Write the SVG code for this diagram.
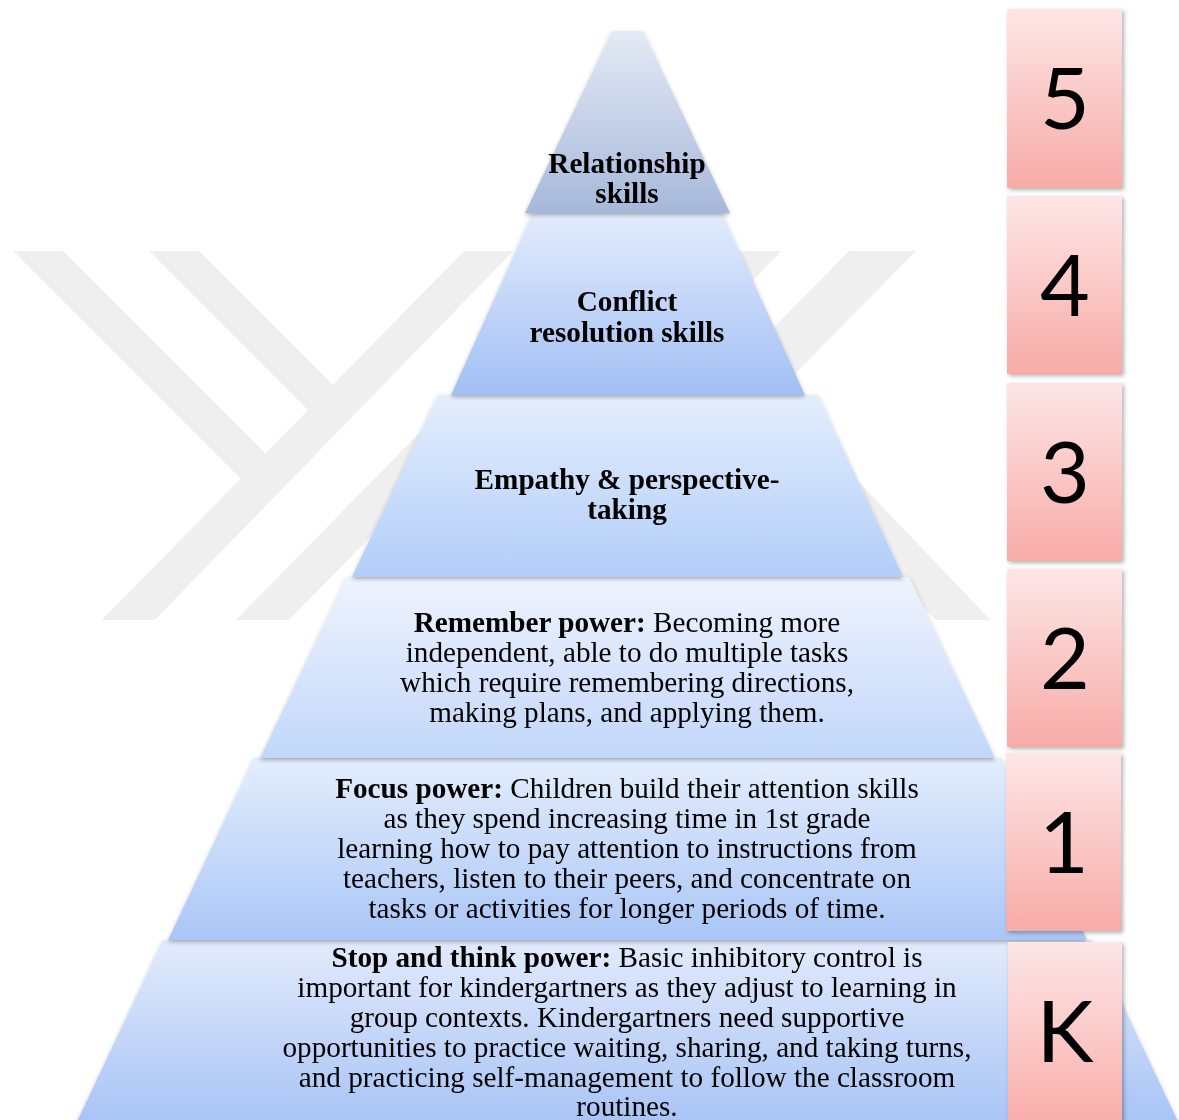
<svg xmlns="http://www.w3.org/2000/svg" width="1179" height="1120" viewBox="0 0 1179 1120">
<style>
.t{font-family:"Liberation Serif","Times New Roman",serif;font-size:29.2px;fill:#000;text-anchor:middle}
.b{font-weight:bold}
.num{font-family:Lato,"Open Sans",sans-serif;font-size:86px;fill:#000;text-anchor:middle}
.wm{fill:#efefef}
</style>
<defs>
<linearGradient id="g1" x1="0" y1="0" x2="0" y2="1"><stop offset="0" stop-color="#e4eaf5"/><stop offset="1" stop-color="#a6b8da"/></linearGradient>
<linearGradient id="g2" x1="0" y1="0" x2="0" y2="1"><stop offset="0" stop-color="#e3ecfc"/><stop offset="1" stop-color="#a2bff4"/></linearGradient>
<linearGradient id="g3" x1="0" y1="0" x2="0" y2="1"><stop offset="0" stop-color="#e4eefd"/><stop offset="1" stop-color="#b2cdf8"/></linearGradient>
<linearGradient id="g4" x1="0" y1="0" x2="0" y2="1"><stop offset="0" stop-color="#eff3fe"/><stop offset="1" stop-color="#c2d7fa"/></linearGradient>
<linearGradient id="g5" x1="0" y1="0" x2="0" y2="1"><stop offset="0" stop-color="#e4eefd"/><stop offset="1" stop-color="#aac6f6"/></linearGradient>
<linearGradient id="g6" x1="0" y1="0" x2="0" y2="1"><stop offset="0" stop-color="#e2ebfc"/><stop offset="1" stop-color="#a6c2f5"/></linearGradient>
<linearGradient id="gp" x1="0" y1="0" x2="0" y2="1"><stop offset="0" stop-color="#fde6e6"/><stop offset="1" stop-color="#f8aba7"/></linearGradient>
<filter id="sh" x="-10%" y="-10%" width="120%" height="125%"><feDropShadow dx="0" dy="2" stdDeviation="2" flood-color="#000" flood-opacity="0.3"/></filter>
<filter id="shb" x="-10%" y="-10%" width="130%" height="120%"><feDropShadow dx="2" dy="2" stdDeviation="2" flood-color="#000" flood-opacity="0.3"/></filter>
<clipPath id="wmclip"><rect x="0" y="251" width="1179" height="369"/></clipPath>
</defs>
<rect width="1179" height="1120" fill="#ffffff"/>
<g id="watermark" clip-path="url(#wmclip)">
<polygon class="wm" points="13,251 63,251 290,478 265,503 240,478"/>
<polygon class="wm" points="149,251 199,251 350,402 325,427 309,411"/>
<polygon class="wm" points="475,240 524,240 145,630 92,630"/>
<polygon class="wm" points="609,240 662,240 279,630 226,630"/>
<polygon class="wm" points="740,240 792,240 560,480 508,480"/>
<polygon class="wm" points="860,240 927,240 690,480 623,480"/>
<polygon class="wm" points="735,410 790,410 1000,630 945,630"/>
</g>
<g id="pyramid">
<g id="level-k" filter="url(#sh)">
<polygon points="163,940 1092,940 1182,1130 73,1130" fill="url(#g6)"/>
<text class="t" x="627" y="967"><tspan class="b">Stop and think power:</tspan> Basic inhibitory control is</text>
<text class="t" x="627" y="997">important for kindergartners as they adjust to learning in</text>
<text class="t" x="627" y="1027">group contexts. Kindergartners need supportive</text>
<text class="t" x="627" y="1057">opportunities to practice waiting, sharing, and taking turns,</text>
<text class="t" x="627" y="1087">and practicing self-management to follow the classroom</text>
<text class="t" x="627" y="1116">routines.</text>
</g>
<g id="level-1" filter="url(#sh)">
<polygon points="254,758 1001,758 1087,940 168,940" fill="url(#g5)"/>
<text class="t" x="627" y="798"><tspan class="b">Focus power:</tspan> Children build their attention skills</text>
<text class="t" x="627" y="828">as they spend increasing time in 1st grade</text>
<text class="t" x="627" y="858">learning how to pay attention to instructions from</text>
<text class="t" x="627" y="888">teachers, listen to their peers, and concentrate on</text>
<text class="t" x="627" y="918">tasks or activities for longer periods of time.</text>
</g>
<g id="level-2" filter="url(#sh)">
<polygon points="347,577 909,577 995,758 260,758" fill="url(#g4)"/>
<text class="t" x="627" y="632"><tspan class="b">Remember power:</tspan> Becoming more</text>
<text class="t" x="627" y="662">independent, able to do multiple tasks</text>
<text class="t" x="627" y="692">which require remembering directions,</text>
<text class="t" x="627" y="722">making plans, and applying them.</text>
</g>
<g id="level-3" filter="url(#sh)">
<polygon points="438,395 818,395 903,577 352,577" fill="url(#g3)"/>
<text class="t b" x="627" y="489">Empathy &amp; perspective-</text>
<text class="t b" x="627" y="519">taking</text>
</g>
<g id="level-4" filter="url(#sh)">
<polygon points="533,213 722,213 805,395 451,395" fill="url(#g2)"/>
<text class="t b" x="627" y="311">Conflict</text>
<text class="t b" x="627" y="342">resolution skills</text>
</g>
<g id="level-5" filter="url(#sh)">
<polygon points="612,31 643,31 730,213 525,213" fill="url(#g1)"/>
<text class="t b" x="627" y="173">Relationship</text>
<text class="t b" x="627" y="203">skills</text>
</g>
</g>
<g id="grades">
<g id="grade-5"><rect x="1007" y="9" width="115" height="179" fill="url(#gp)" filter="url(#shb)"/><text class="num" x="1065" y="129">5</text></g>
<g id="grade-4"><rect x="1007" y="196" width="115" height="178" fill="url(#gp)" filter="url(#shb)"/><text class="num" x="1065" y="316">4</text></g>
<g id="grade-3"><rect x="1007" y="383" width="115" height="178" fill="url(#gp)" filter="url(#shb)"/><text class="num" x="1065" y="503">3</text></g>
<g id="grade-2"><rect x="1007" y="569" width="115" height="178" fill="url(#gp)" filter="url(#shb)"/><text class="num" x="1065" y="689">2</text></g>
<g id="grade-1"><rect x="1006" y="753" width="115" height="178" fill="url(#gp)" filter="url(#shb)"/><text class="num" x="1064" y="873">1</text></g>
<g id="grade-k"><rect x="1008" y="942" width="114" height="190" fill="url(#gp)" filter="url(#shb)"/><text class="num" x="1065" y="1062">K</text></g>
</g>
</svg>
